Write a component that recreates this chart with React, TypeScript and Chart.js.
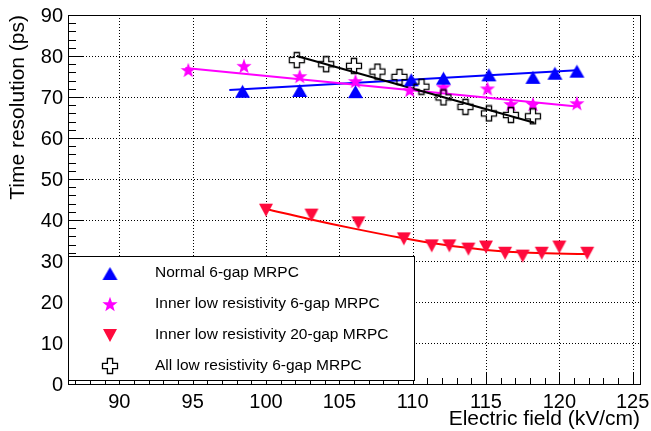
import React, { useEffect, useRef } from "react";
import { Chart, registerables } from "chart.js";

Chart.register(...registerables);

// ---- data ----
const normalX = [98.4, 102.3, 106.1, 109.9, 112.1, 115.2, 118.2, 119.7, 121.2];
const normalY = [71.4, 71.6, 71.3, 74.2, 74.6, 75.4, 74.8, 75.8, 76.3];

const innerLow6X = [94.7, 98.5, 102.3, 106.1, 109.8, 112.1, 115.1, 116.7, 118.2, 121.2];
const innerLow6Y = [76.6, 77.6, 75.1, 73.9, 71.7, 72.5, 72.1, 68.3, 68.3, 68.5];

const innerLow20X = [100.0, 103.1, 106.3, 109.4, 111.3, 112.5, 113.8, 115.0, 116.3, 117.5, 118.8, 120.0, 121.9];
const innerLow20Y = [42.4, 41.2, 39.3, 35.4, 33.7, 33.7, 32.9, 33.4, 31.9, 31.2, 31.9, 33.4, 31.9];

const allLow6X = [102.1, 104.1, 106.0, 107.6, 109.1, 110.6, 112.1, 113.6, 115.2, 116.7, 118.2];
const allLow6Y = [79.0, 78.0, 77.6, 76.2, 74.9, 72.5, 69.9, 67.6, 66.0, 65.6, 65.3];

// fit curves
const normalFitX = [97.5, 121.2];
const normalFitY = [71.7, 76.5];
const innerLow6FitX = [94.5, 121.2];
const innerLow6FitY = [77.1, 67.7];
const allLow6FitX = [102.1, 118.3];
const allLow6FitY = [80.0, 63.7];
const innerLow20FitX = [100.0, 103.0, 106.0, 109.0, 112.0, 115.0, 118.0, 121.9];
const innerLow20FitY = [42.7, 40.2, 37.9, 35.8, 34.0, 32.7, 32.0, 31.7];

const seriesLabels = [
  "Normal 6-gap MRPC",
  "Inner low resistivity 6-gap MRPC",
  "Inner low resistivity 20-gap MRPC",
  "All low resistivity 6-gap MRPC",
];

const xMajorTicks = [90, 95, 100, 105, 110, 115, 120, 125];
const yMajorTicks = [0, 10, 20, 30, 40, 50, 60, 70, 80, 90];

const X_MIN = 86.5;
const X_MAX = 125.5;
const Y_MIN = 0;
const Y_MAX = 90;

const FONT = "'Liberation Sans', Arial, Helvetica, sans-serif";

const pts = (xs: number[], ys: number[]) => xs.map((x, i) => ({ x, y: ys[i] }));

// ---- marker images ----
function triangleImg(color: string, w: number, h: number, down: boolean) {
  const c = document.createElement("canvas");
  c.width = w + 2;
  c.height = h + 2;
  const ctx = c.getContext("2d")!;
  ctx.fillStyle = color;
  ctx.beginPath();
  if (!down) {
    ctx.moveTo(1 + w / 2, 1);
    ctx.lineTo(1 + w, 1 + h);
    ctx.lineTo(1, 1 + h);
  } else {
    ctx.moveTo(1, 1);
    ctx.lineTo(1 + w, 1);
    ctx.lineTo(1 + w / 2, 1 + h);
  }
  ctx.closePath();
  ctx.fill();
  return c;
}

function starImg(color: string, R: number, r: number) {
  const s = Math.ceil(2 * R + 2);
  const c = document.createElement("canvas");
  c.width = s;
  c.height = s;
  const ctx = c.getContext("2d")!;
  const cx = s / 2;
  const cy = s / 2 + 0.8;
  ctx.fillStyle = color;
  ctx.beginPath();
  for (let i = 0; i < 10; i++) {
    const rad = i % 2 === 0 ? R : r;
    const a = -Math.PI / 2 + (i * Math.PI) / 5;
    const px = cx + rad * Math.cos(a);
    const py = cy + rad * Math.sin(a);
    if (i === 0) ctx.moveTo(px, py);
    else ctx.lineTo(px, py);
  }
  ctx.closePath();
  ctx.fill();
  return c;
}

function openCrossImg(color: string, half: number, arm: number) {
  const s = Math.ceil(2 * half + 3);
  const c = document.createElement("canvas");
  c.width = s;
  c.height = s;
  const ctx = c.getContext("2d")!;
  const cx = s / 2;
  const cy = s / 2;
  ctx.strokeStyle = color;
  ctx.lineWidth = 1.3;
  ctx.beginPath();
  ctx.moveTo(cx - arm, cy - half);
  ctx.lineTo(cx + arm, cy - half);
  ctx.lineTo(cx + arm, cy - arm);
  ctx.lineTo(cx + half, cy - arm);
  ctx.lineTo(cx + half, cy + arm);
  ctx.lineTo(cx + arm, cy + arm);
  ctx.lineTo(cx + arm, cy + half);
  ctx.lineTo(cx - arm, cy + half);
  ctx.lineTo(cx - arm, cy + arm);
  ctx.lineTo(cx - half, cy + arm);
  ctx.lineTo(cx - half, cy - arm);
  ctx.lineTo(cx - arm, cy - arm);
  ctx.closePath();
  ctx.stroke();
  return c;
}

export default function App() {
  const ref = useRef<HTMLCanvasElement | null>(null);

  useEffect(() => {
    const canvas = ref.current;
    if (!canvas) return;

    const mBlue = triangleImg("#0000ff", 15, 13, false);
    const mStar = starImg("#ff00ff", 8, 3.3);
    const mRed = triangleImg("#ff0a3c", 14, 13, true);
    const mCross = openCrossImg("#000000", 7.5, 2.6);
    const markers = [mBlue, mStar, mRed, mCross];

    const axesPlugin = {
      id: "rootAxes",
      beforeDatasetsDraw(chart: any) {
        const ctx = chart.ctx as CanvasRenderingContext2D;
        const xs = chart.scales.x;
        const ys = chart.scales.y;
        const { left, right, top, bottom } = chart.chartArea;
        ctx.save();
        // dotted grid
        ctx.strokeStyle = "#000";
        ctx.lineWidth = 1;
        ctx.setLineDash([1, 2]);
        for (const v of xMajorTicks) {
          const px = Math.round(xs.getPixelForValue(v)) + 0.5;
          ctx.beginPath();
          ctx.moveTo(px, top);
          ctx.lineTo(px, bottom);
          ctx.stroke();
        }
        for (const v of yMajorTicks) {
          if (v === Y_MIN || v === Y_MAX) continue;
          const py = Math.round(ys.getPixelForValue(v)) + 0.5;
          ctx.beginPath();
          ctx.moveTo(left, py);
          ctx.lineTo(right, py);
          ctx.stroke();
        }
        ctx.setLineDash([]);
        // frame
        ctx.strokeStyle = "#000";
        ctx.lineWidth = 1;
        ctx.strokeRect(Math.round(left) + 0.5, Math.round(top) + 0.5, Math.round(right - left), Math.round(bottom - top));
        // y ticks
        ctx.lineWidth = 1;
        for (let v = Y_MIN; v <= Y_MAX + 1e-6; v += 2) {
          const py = Math.round(ys.getPixelForValue(v)) + 0.5;
          const len = v % 10 === 0 ? 16 : 8;
          ctx.beginPath();
          ctx.moveTo(left, py);
          ctx.lineTo(left + len, py);
          ctx.stroke();
        }
        // x ticks
        for (let v = Math.ceil(X_MIN); v <= X_MAX; v += 1) {
          const px = Math.round(xs.getPixelForValue(v)) + 0.5;
          const len = v % 5 === 0 ? 11 : 6;
          ctx.beginPath();
          ctx.moveTo(px, bottom);
          ctx.lineTo(px, bottom - len);
          ctx.stroke();
        }
        ctx.restore();
      },
      afterDraw(chart: any) {
        const ctx = chart.ctx as CanvasRenderingContext2D;
        const xs = chart.scales.x;
        const ys = chart.scales.y;
        const { left, right, top, bottom } = chart.chartArea;
        ctx.save();
        // legend
        const lx = Math.round(left) + 0.5;
        const ly = 256.5;
        const lw = 346;
        const lh = 124;
        ctx.fillStyle = "#fff";
        ctx.fillRect(lx, ly, lw, lh);
        ctx.strokeStyle = "#000";
        ctx.lineWidth = 1;
        ctx.strokeRect(lx, ly, lw, lh);
        ctx.font = `15.5px ${FONT}`;
        ctx.fillStyle = "#000";
        ctx.textAlign = "left";
        ctx.textBaseline = "middle";
        const rowH = lh / 4;
        seriesLabels.forEach((lab, i) => {
          const cy = ly + rowH * (i + 0.5) + 1;
          const m = markers[i];
          ctx.drawImage(m, 110 - m.width / 2, Math.round(cy - m.height / 2));
          ctx.fillStyle = "#000";
          ctx.fillText(lab, 155, cy);
        });
        // x-axis redraw below legend (ticks visible)
        ctx.strokeStyle = "#000";
        ctx.beginPath();
        ctx.moveTo(left, Math.round(bottom) + 0.5);
        ctx.lineTo(right, Math.round(bottom) + 0.5);
        ctx.stroke();
        for (let v = Math.ceil(X_MIN); v <= 110; v += 1) {
          const px = Math.round(xs.getPixelForValue(v)) + 0.5;
          ctx.beginPath();
          ctx.moveTo(px, bottom);
          ctx.lineTo(px, ly + lh + 0.5);
          ctx.stroke();
        }
        // tick labels
        ctx.fillStyle = "#000";
        ctx.font = `20px ${FONT}`;
        ctx.textAlign = "center";
        ctx.textBaseline = "middle";
        for (const v of xMajorTicks) {
          ctx.fillText(String(v), xs.getPixelForValue(v), 402);
        }
        ctx.textAlign = "right";
        for (const v of yMajorTicks) {
          ctx.fillText(String(v), left - 5, ys.getPixelForValue(v) + 1);
        }
        // titles
        ctx.font = `21px ${FONT}`;
        ctx.textAlign = "right";
        ctx.textBaseline = "alphabetic";
        ctx.fillText("Electric field (kV/cm)", right, 425);
        ctx.save();
        ctx.translate(18, top);
        ctx.rotate(-Math.PI / 2);
        ctx.textAlign = "right";
        ctx.textBaseline = "middle";
        ctx.fillText("Time resolution (ps)", 0, 0);
        ctx.restore();
        ctx.restore();
      },
    };

    const lineDs = (xs: number[], ys: number[], color: string, order: number, curve = false) => ({
      type: "line" as const,
      data: pts(xs, ys),
      borderColor: color,
      borderWidth: 2,
      pointRadius: 0,
      showLine: true,
      fill: false,
      order,
      cubicInterpolationMode: "default" as const,
      tension: curve ? 0.4 : 0,
    });

    const markerDs = (label: string, xs: number[], ys: number[], img: HTMLCanvasElement, order: number) => ({
      type: "scatter" as const,
      label,
      data: pts(xs, ys),
      pointStyle: img,
      pointRadius: 8,
      showLine: false,
      order,
    });

    const chart = new Chart(canvas, {
      type: "scatter",
      data: {
        datasets: [
          lineDs(innerLow20FitX, innerLow20FitY, "#ff0000", 10, true),
          lineDs(normalFitX, normalFitY, "#0000ff", 9),
          lineDs(innerLow6FitX, innerLow6FitY, "#ff00ff", 8),
          lineDs(allLow6FitX, allLow6FitY, "#000000", 7),
          markerDs(seriesLabels[2], innerLow20X, innerLow20Y, mRed, 6),
          markerDs(seriesLabels[1], innerLow6X, innerLow6Y, mStar, 5),
          markerDs(seriesLabels[0], normalX, normalY, mBlue, 4),
          markerDs(seriesLabels[3], allLow6X, allLow6Y, mCross, 3),
        ] as any,
      },
      options: {
        animation: false,
        responsive: false,
        devicePixelRatio: 1,
        layout: { padding: { left: 68, right: 11, top: 15, bottom: 47 } },
        scales: {
          x: { type: "linear", min: X_MIN, max: X_MAX, display: false },
          y: { type: "linear", min: Y_MIN, max: Y_MAX, display: false },
        },
        plugins: {
          legend: { display: false },
          tooltip: { enabled: false },
        },
        events: [],
      },
      plugins: [axesPlugin],
    });

    return () => chart.destroy();
  }, []);

  return (
    <div style={{ position: "fixed", left: 0, top: 0, width: 651, height: 431, background: "#fff" }}>
      <canvas ref={ref} width={651} height={431} style={{ display: "block", width: 651, height: 431 }} />
    </div>
  );
}
